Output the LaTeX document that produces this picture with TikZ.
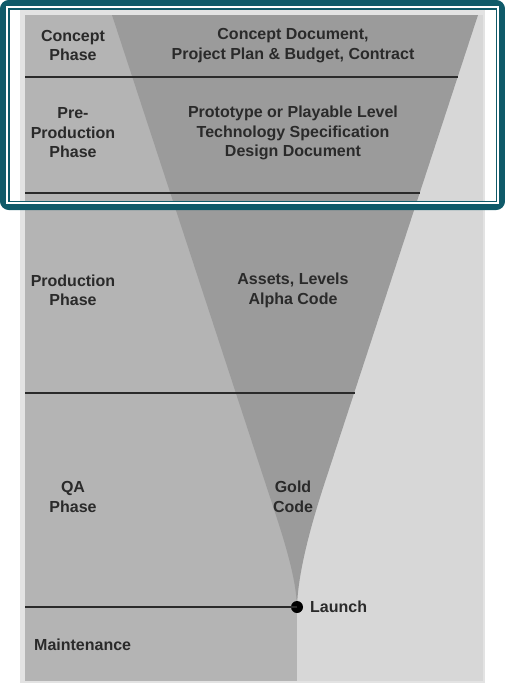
\documentclass[tikz,border=0pt]{standalone}
\usepackage{fontspec}
\setmainfont{Liberation Sans}
\definecolor{frameteal}{HTML}{0F5A69}
\definecolor{edgegrey}{HTML}{E3E3E3}
\definecolor{lightgrey}{HTML}{D7D7D7}
\definecolor{phasegrey}{HTML}{B4B4B4}
\definecolor{funnelgrey}{HTML}{9B9B9B}
\definecolor{inkgrey}{HTML}{2A2A2A}
\tikzset{
    lbl/.style={font=\fontsize{16}{19.5}\selectfont\bfseries, text=inkgrey, align=center, inner sep=0pt},
    divider/.style={draw=inkgrey, line width=2.5pt},
}
\begin{document}
\begin{tikzpicture}[x=1pt, y=-1pt]
    \useasboundingbox (0,0) rectangle (505,686);
    % background panels
    \fill[edgegrey]   (20,10) rectangle (485,683);
    \fill[lightgrey]  (25,15) rectangle (483,681);
    \fill[phasegrey]  (25,15) rectangle (297,681);
    % funnel
    \coordinate (ftl) at (112,15);
    \coordinate (ftr) at (478,15);
    \coordinate (tip) at (297,607);
    \fill[funnelgrey] (ftl) -- (266,485) .. controls (279,525) and (296,572) .. (tip)
        .. controls (298,572) and (311,525) .. (324,485) -- (ftr) -- cycle;
    % dividers
    \coordinate (d1l) at (25,77);   \coordinate (d1r) at (458,77);
    \coordinate (d2l) at (25,193);  \coordinate (d2r) at (420,193);
    \coordinate (d3l) at (25,393);  \coordinate (d3r) at (355,393);
    \coordinate (d4l) at (25,607);
    \draw[divider] (d1l) -- (d1r);
    \draw[divider] (d2l) -- (d2r);
    \draw[divider] (d3l) -- (d3r);
    \node[circle, fill=black, minimum size=12pt, inner sep=0pt] at (tip) (launch) {};
    \draw[divider] (d4l) -- (launch.center);
    % phase labels
    \node[lbl] at (73, 45.5)   (concept)   {Concept\\Phase};
    \node[lbl] at (73, 133)    (preprod)   {Pre-\\Production\\Phase};
    \node[lbl] at (73, 290.5)  (prod)      {Production\\Phase};
    \node[lbl] at (73, 497)    (qa)        {QA\\Phase};
    \node[lbl, anchor=west] at (34, 645) (maint) {Maintenance};
    % deliverables
    \node[lbl] at (293, 45.5)  (conceptdoc) {Concept Document,\\Project Plan \& Budget, Contract};
    \node[lbl] at (293, 133)   (protodoc)   {Prototype or Playable Level\\Technology Specification\\Design Document};
    \node[lbl] at (293, 290.5) (assets)     {Assets, Levels\\Alpha Code};
    \node[lbl] at (293, 497)   (gold)       {Gold\\Code};
    \node[lbl, anchor=west] at (310, 607) (launchlbl) {Launch};
    % frame
    \draw[frameteal, line width=6pt, rounded corners=6pt] (3,3) rectangle (502,207);
    \draw[white, line width=2pt] (7,7) rectangle (498,203);
    \draw[frameteal, line width=1.5pt] (8.75,8.75) rectangle (496.25,201.25);
\end{tikzpicture}
\end{document}
